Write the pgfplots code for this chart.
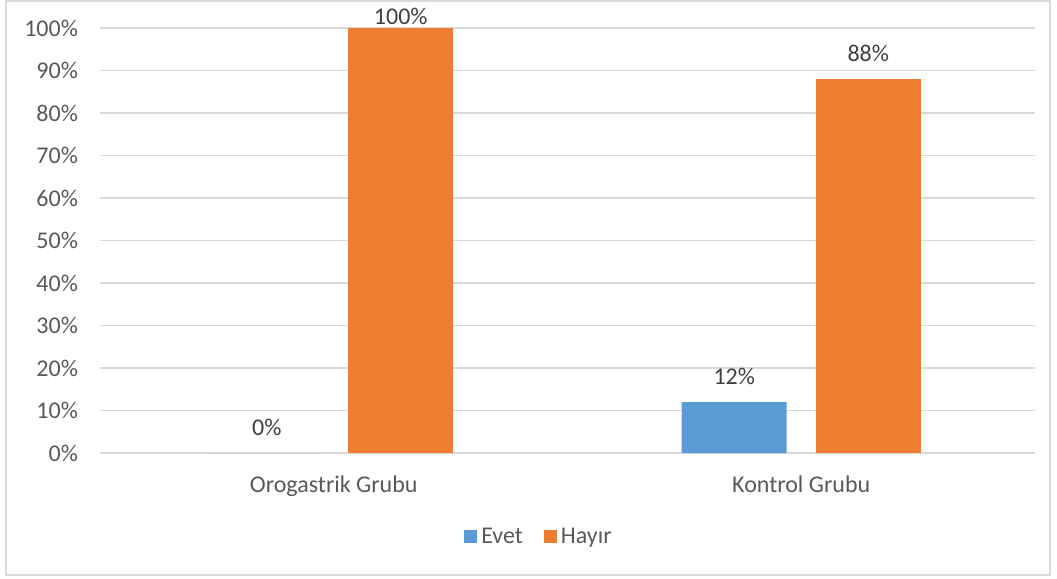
\documentclass[border=0pt]{standalone}
\usepackage{pgfplots}
\pgfplotsset{compat=1.18}
\usepackage{fontspec}
\setmainfont{Carlito}
\definecolor{evet}{HTML}{5B9BD5}
\definecolor{hayir}{HTML}{ED7D31}
\definecolor{txt}{HTML}{595959}
\definecolor{lbl}{HTML}{404040}
\definecolor{grd}{HTML}{D9D9D9}
\begin{document}
\begin{tikzpicture}
\useasboundingbox (0,0) rectangle (528.5pt,289.5pt);
\draw[grd, line width=0.75pt] (3pt,2pt) rectangle (525pt,289pt);
\begin{axis}[
    ,at              = {(50pt,63pt)}
    ,anchor          = south west
    ,scale only axis
    ,width           = 467.5pt
    ,height          = 212.5pt
    ,xmin            = -0.5
    ,xmax            = 1.5
    ,ymin            = 0
    ,ymax            = 100
    ,/pgf/number format/assume math mode = true
    ,xtick           = {0,1}
    ,xticklabels     = {Orogastrik Grubu, Kontrol Grubu}
    ,ytick           = {0,10,...,100}
    ,yticklabel      = {\pgfmathprintnumber{\tick}\%}
    ,axis line style = {draw=none}
    ,major tick length = 0pt
    ,ymajorgrids     = true
    ,grid style      = {grd, line width=0.75pt}
    ,tick label style = {font=\fontsize{12}{14}\selectfont, text=txt}
    ,yticklabel style = {xshift=-7.5pt}
    ,xticklabel style = {yshift=-8pt}
    ,ybar
    ,bar width       = 52.5pt
    ,clip            = false
    ,nodes near coords = {\pgfmathprintnumber{\pgfplotspointmeta}\%}
    ,every node near coord/.append style = {anchor=center, yshift=13pt, font=\fontsize{12}{14}\selectfont, text=lbl}
    ,legend style    = {at={(0.4706,-0.1976)}, anchor=center, draw=none, fill=none,
                        legend columns=2, font=\fontsize{12}{14}\selectfont, text=txt,
                        /tikz/every even column/.append style={column sep=8.5pt}}
    ,legend image code/.code = {\fill[#1] (0pt,-3.25pt) rectangle (6.5pt,3.25pt);}
    ]
    \addplot [fill=evet, draw=none, bar shift=-33.5pt] coordinates {(0,0) (1,12)};
    \addlegendentry{Evet}
    \addplot [fill=hayir, draw=none, bar shift=33.5pt, forget plot,
              every node near coord/.append style={yshift=-7pt}] coordinates {(0,100)};
    \addplot [fill=hayir, draw=none, bar shift=33.5pt] coordinates {(1,88)};
    \addlegendentry{Hayır}
\end{axis}
\end{tikzpicture}
\end{document}
